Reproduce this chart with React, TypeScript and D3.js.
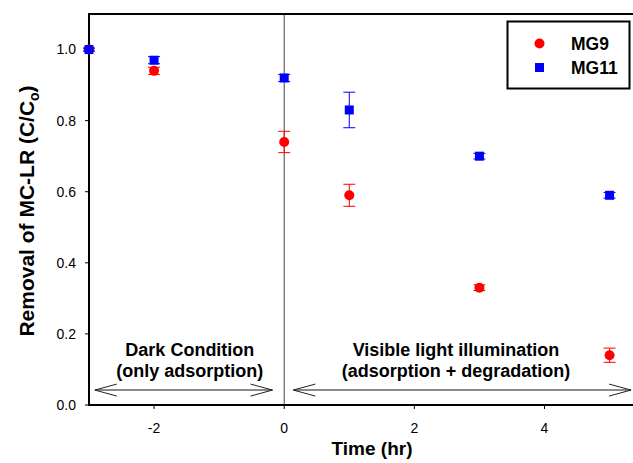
import React from 'react';
import * as d3 from 'd3';

// ---- data ----
const times = [-3, -2, 0, 1, 3, 5];
const mg9Values = [1.0, 0.94, 0.74, 0.59, 0.33, 0.14];
const mg9Errors = [0.004, 0.01, 0.03, 0.031, 0.008, 0.02];
const mg11Values = [1.0, 0.97, 0.92, 0.83, 0.7, 0.59];
const mg11Errors = [0.004, 0.01, 0.01, 0.05, 0.008, 0.008];
const seriesNames = ['MG9', 'MG11'];
const xTicks = [-2, 0, 2, 4];
const yTicks = [0, 0.2, 0.4, 0.6, 0.8, 1.0];
const phaseLine1 = ['Dark Condition', 'Visible light illumination'];
const phaseLine2 = ['(only adsorption)', '(adsorption + degradation)'];
const phaseStart = [-2.91, 0.14];
const phaseEnd = [-0.18, 5.33];
const phaseCenter = [-1.45, 2.64];

const W = 633;
const H = 463;
const M = { left: 89, top: 14, right: 633, bottom: 405 };
const FONT = "'Liberation Sans', Arial, Helvetica, sans-serif";
const RED = '#ff0000';
const BLUE = '#0000ff';

export default function App() {
  const x = d3.scaleLinear().domain([-3, 5.36]).range([M.left, M.right]);
  const y = d3.scaleLinear().domain([0, 1.1]).range([M.bottom, M.top]);
  const fmt = d3.format('.1f');

  const errBar = (t: number, v: number, e: number, color: string, key: string) => {
    const cx = x(t);
    const y1 = y(v + e);
    const y2 = y(v - e);
    return (
      <g key={key} stroke={color} strokeWidth={1}>
        <line x1={cx} x2={cx} y1={y1} y2={y2} />
        <line x1={cx - 6} x2={cx + 6} y1={y1} y2={y1} />
        <line x1={cx - 6} x2={cx + 6} y1={y2} y2={y2} />
      </g>
    );
  };

  const arrow = (i: number) => {
    const x1 = x(phaseStart[i]);
    const x2 = x(phaseEnd[i]);
    const ay = y(0.042);
    return (
      <g key={'arr' + i}>
        <line x1={x1} x2={x2} y1={ay} y2={ay} stroke="#8a8a8a" strokeWidth={2} />
        <polyline points={`${x1 + 22},${ay - 6} ${x1},${ay} ${x1 + 22},${ay + 6}`} fill="none" stroke="#222" strokeWidth={1} />
        <polyline points={`${x2 - 22},${ay - 6} ${x2},${ay} ${x2 - 22},${ay + 6}`} fill="none" stroke="#222" strokeWidth={1} />
      </g>
    );
  };

  return (
    <svg width={W} height={H} style={{ position: 'absolute', left: 0, top: 0, background: '#fff' }} fontFamily={FONT}>
      <rect x={0} y={0} width={W} height={H} fill="#fff" />
      {/* vertical divider at t=0 */}
      <line x1={x(0)} x2={x(0)} y1={M.top} y2={M.bottom} stroke="#444" strokeWidth={1} />

      {/* phase annotations */}
      {[0, 1].map((i) => (
        <g key={'ph' + i}>
          <text x={x(phaseCenter[i])} y={y(0.138)} textAnchor="middle" fontWeight="bold" fontSize={18}>{phaseLine1[i]}</text>
          <text x={x(phaseCenter[i])} y={y(0.079)} textAnchor="middle" fontWeight="bold" fontSize={18}>{phaseLine2[i]}</text>
          {arrow(i)}
        </g>
      ))}

      {/* axes frame */}
      <line x1={M.left} x2={M.right} y1={M.top} y2={M.top} stroke="#000" strokeWidth={2} />
      <line x1={M.left} x2={M.left} y1={M.top - 1} y2={M.bottom + 1} stroke="#000" strokeWidth={2} />
      <line x1={M.left - 1} x2={M.right} y1={M.bottom} y2={M.bottom} stroke="#000" strokeWidth={2} />

      {/* y ticks */}
      {yTicks.map((t) => (
        <g key={'yt' + t}>
          <line x1={M.left - 4} x2={M.left} y1={y(t)} y2={y(t)} stroke="#000" strokeWidth={1} />
          <text x={M.left - 13} y={y(t)} dy="0.35em" textAnchor="end" fontSize={14}>{fmt(t)}</text>
        </g>
      ))}
      {/* x ticks */}
      {xTicks.map((t) => (
        <g key={'xt' + t}>
          <line x1={x(t)} x2={x(t)} y1={M.bottom} y2={M.bottom + 4} stroke="#000" strokeWidth={1} />
          <text x={x(t)} y={433} textAnchor="middle" fontSize={14}>{t}</text>
        </g>
      ))}

      {/* axis titles */}
      <text x={372} y={455} textAnchor="middle" fontWeight="bold" fontSize={19}>Time (hr)</text>
      <text transform="translate(34,211) rotate(-90)" textAnchor="middle" fontWeight="bold" fontSize={21}>
        Removal of MC-LR (C/C<tspan fontSize={14} dy={5}>o</tspan><tspan dy={-5}>)</tspan>
      </text>

      {/* MG9 */}
      {times.map((t, i) => errBar(t, mg9Values[i], mg9Errors[i], RED, 'e9' + i))}
      {times.map((t, i) => (
        <circle key={'c9' + i} cx={x(t)} cy={y(mg9Values[i])} r={5} fill={RED} />
      ))}
      {/* MG11 */}
      {times.map((t, i) => errBar(t, mg11Values[i], mg11Errors[i], BLUE, 'e11' + i))}
      {times.map((t, i) => (
        <rect key={'s11' + i} x={x(t) - 4.5} y={y(mg11Values[i]) - 4.5} width={9} height={9} fill={BLUE} />
      ))}

      {/* legend */}
      <rect x={507.5} y={21.5} width={122} height={67} fill="#fff" stroke="#000" strokeWidth={2} />
      <circle cx={539.5} cy={43.5} r={5} fill={RED} />
      <rect x={535} y={63} width={9} height={9} fill={BLUE} />
      <text x={571} y={49.5} fontWeight="bold" fontSize={17.5}>{seriesNames[0]}</text>
      <text x={571} y={73.5} fontWeight="bold" fontSize={17.5}>{seriesNames[1]}</text>
    </svg>
  );
}
